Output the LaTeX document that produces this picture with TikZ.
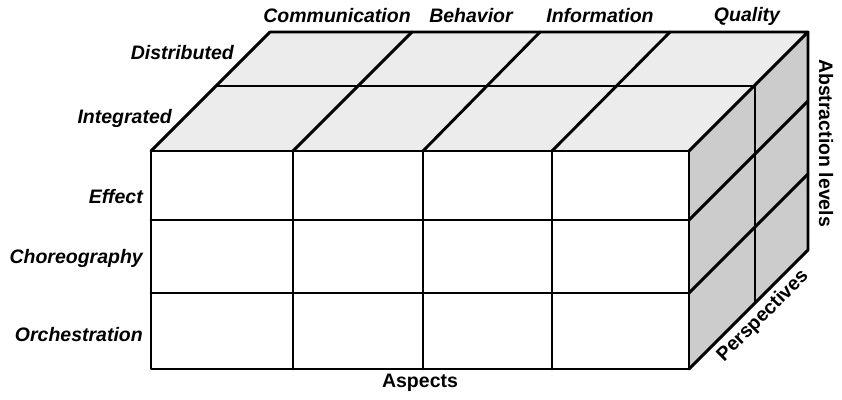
\documentclass[tikz,border=0pt]{standalone}
\usepackage{fontspec}
\setmainfont{Liberation Sans}
\usepackage{tikz}
\usetikzlibrary{positioning}

\begin{document}
\begin{tikzpicture}[x=1pt, y=-1pt, font=\fontsize{19.5}{23}\selectfont\bfseries,
  grid/.style={line width=2.9pt, line join=round, line cap=round},
  lbl/.style={font=\fontsize{19.5}{23}\selectfont\bfseries\itshape, inner sep=0pt},
  axis/.style={inner sep=0pt}]
  \useasboundingbox (0,0) rectangle (842,399);
  % faces
  \fill[gray!15] (151,151) -- (689,151) -- (808,32) -- (270,32) -- cycle;
  \fill[gray!40] (689,151) -- (808,32) -- (808,250) -- (689,369) -- cycle;
  \fill[white] (151,151) rectangle (689,369);
  % front face
  \draw[grid] (151,151) rectangle (689,369);
  \draw[grid] (151,220) -- (689,220) (151,293) -- (689,293);
  \draw[grid] (293,151) -- (293,369) (423,151) -- (423,369) (552,151) -- (552,369);
  % top face
  \draw[grid] (151,151) -- (270,32) -- (808,32) -- (689,151);
  \draw[grid] (217,86) -- (755,86);
  \draw[grid] (293,151) -- (412,32) (423,151) -- (540,32) (552,151) -- (670,32);
  % right face
  \draw[grid] (808,32) -- (808,250) -- (689,369);
  \draw[grid] (755,86) -- (755,303);
  \draw[grid] (689,220) -- (808,101) (689,293) -- (808,174);
  % labels
  \node[lbl] (comm) at (337,16) {Communication};
  \node[lbl] (behav) at (471,16) {Behavior};
  \node[lbl] (info) at (600,16) {Information};
  \node[lbl] (qual) at (747,16) {Quality};
  \node[lbl, anchor=east] (distr) at (234,53) {Distributed};
  \node[lbl, anchor=east] (integ) at (172,118) {Integrated};
  \node[lbl, anchor=east] (effect) at (143,197) {Effect};
  \node[lbl, anchor=east] (choreo) at (143,258) {Choreography};
  \node[lbl, anchor=east] (orch) at (143,335) {Orchestration};
  \node[axis] (aspects) at (420,383) {Aspects};
  \node[axis, rotate=-90] (abstr) at (826,143) {Abstraction levels};
  \node[axis, rotate=45] (persp) at (763,316) {Perspectives};
\end{tikzpicture}
\end{document}
